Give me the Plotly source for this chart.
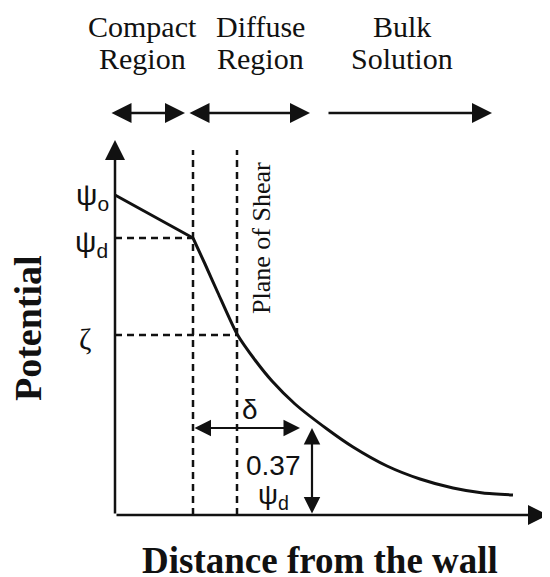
import plotly.graph_objects as go

# ── Diagram data (distance from wall / potential, arbitrary units) ────────────
WALL_X = 0
COMPACT_X = 78        # outer Helmholtz plane
SHEAR_X = 122         # plane of shear
PSI_0 = 320
PSI_D = 277
ZETA = 180
DELTA_Y = 87          # 0.37 psi_d level
DELTA_END = 185
DECAY_X = 197

compact_x = [WALL_X, COMPACT_X]
compact_y = [PSI_0, PSI_D]
diffuse_x = [78, 90, 103, 122, 140, 157, 180, 212, 238, 272, 305, 338, 368, 398]
diffuse_y = [277, 251, 222, 181, 155, 134, 111, 86, 68, 49, 36, 27, 22, 20]

X_END = 433
Y_END = 375
DASH_TOP = 365

region_top = ["Compact", "Diffuse", "Bulk"]
region_bottom = ["Region", "Region", "Solution"]
region_x = [27, 145, 287]
region_arrows = [(-5, 70, True), (73, 195, True), (212, 377, False)]

SERIF = "Liberation Serif, Times New Roman, serif"
SANS = "Liberation Sans, Arial, sans-serif"
INK = "#111111"

fig = go.Figure()

# potential profile
fig.add_trace(go.Scatter(x=compact_x, y=compact_y, mode="lines",
                         line=dict(color=INK, width=3)))
fig.add_trace(go.Scatter(x=diffuse_x, y=diffuse_y, mode="lines",
                         line=dict(color=INK, width=3, shape="spline", smoothing=0.6)))

# dashed guides
dash = dict(color=INK, width=2.5, dash="7px,5px")
for x0 in (COMPACT_X, SHEAR_X):
    fig.add_trace(go.Scatter(x=[x0, x0], y=[0, DASH_TOP], mode="lines", line=dash))
fig.add_trace(go.Scatter(x=[WALL_X, COMPACT_X], y=[PSI_D, PSI_D], mode="lines", line=dash))
fig.add_trace(go.Scatter(x=[WALL_X, SHEAR_X], y=[ZETA, ZETA], mode="lines", line=dash))


def arrow(x0, y0, x1, y1, both=False, width=2.5, size=1.6):
    fig.add_annotation(
        x=x1, y=y1, ax=x0, ay=y0, xref="x", yref="y", axref="x", ayref="y",
        text="", showarrow=True, arrowhead=2, startarrowhead=2,
        arrowside="end+start" if both else "end",
        arrowwidth=width, arrowsize=size, startarrowsize=size, arrowcolor=INK,
    )


# axes
arrow(WALL_X, 0, WALL_X, Y_END)
arrow(WALL_X, 0, X_END, 0)

# region arrows
for x0, x1, both in region_arrows:
    arrow(x0, 402, x1, 402, both=both)

# delta and 0.37 psi_d arrows
arrow(COMPACT_X, DELTA_Y, DELTA_END, DELTA_Y, both=True, width=2.2, size=1.5)
arrow(DECAY_X, 0, DECAY_X, DELTA_Y, both=True, width=2.2, size=1.5)


def label(x, y, text, size=26, angle=0, bold=False, family=SERIF):
    if bold:
        text = f"<b>{text}</b>"
    fig.add_annotation(x=x, y=y, xref="x", yref="y", text=text, showarrow=False,
                       textangle=angle, font=dict(family=family, size=size, color=INK))


for top, bottom, x in zip(region_top, region_bottom, region_x):
    label(x, 489, top, size=30)
    label(x, 457, bottom, size=30)

label(-23, 319, "ψ<sub>o</sub>", size=30, family=SANS)
label(-24, 272, "ψ<sub>d</sub>", size=30, family=SANS)
label(-30, 177, "ζ", size=30)
label(146, 277, "Plane of Shear", size=26, angle=-90)
label(135, 106, "δ", size=28, family=SANS)
label(158, 50, "0.37", size=28, family=SANS)
label(158, 19, "ψ<sub>d</sub>", size=28, family=SANS)
label(-87, 187, "Potential", size=38, angle=-90, bold=True)
label(205, -45, "Distance from the wall", size=37, bold=True)

fig.update_layout(
    width=542, height=569,
    margin=dict(l=0, r=0, t=0, b=0),
    paper_bgcolor="white", plot_bgcolor="white",
    showlegend=False,
    xaxis=dict(range=[-107, 435], visible=False, fixedrange=True),
    yaxis=dict(range=[-62, 507], visible=False, fixedrange=True),
)

fig.write_html("out.html")
